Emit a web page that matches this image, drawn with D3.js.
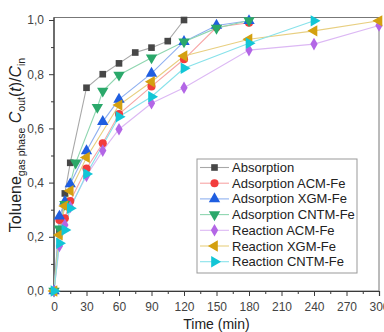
<!DOCTYPE html>
<html>
<head>
<meta charset="utf-8">
<script src="https://cdn.jsdelivr.net/npm/d3@7"></script>
<style>
  html, body { margin: 0; padding: 0; background: #fff; }
  svg { display: block; font-family: "Liberation Sans", Arial, sans-serif; }
</style>
</head>
<body>
<svg id="chart" width="384" height="332"></svg>
<script>
// data (time in min, C/Cin)
const seriesNames = ["Absorption", "Adsorption ACM-Fe", "Adsorption XGM-Fe", "Adsorption CNTM-Fe",
  "Reaction ACM-Fe", "Reaction XGM-Fe", "Reaction CNTM-Fe"];
const absorption = [[0,0],[5,0.22],[10,0.36],[15,0.473],[30,0.75],[45,0.8],[60,0.84],[75,0.88],[90,0.898],[105,0.922],[120,1.0]];
const adsACM = [[0,0],[5,0.262],[10,0.268],[15,0.332],[30,0.452],[45,0.545],[60,0.653],[90,0.755],[120,0.855],[150,0.973],[180,0.99]];
const adsXGM = [[0,0],[5,0.276],[10,0.33],[15,0.395],[30,0.517],[45,0.625],[60,0.707],[90,0.803],[120,0.92],[150,0.98],[180,0.997]];
const adsCNTM = [[0,0],[5,0.23],[10,0.32],[20,0.473],[40,0.678],[45,0.738],[60,0.797],[90,0.861],[120,0.92],[150,0.97],[180,0.998]];
const reaACM = [[0,0],[5,0.166],[10,0.244],[15,0.31],[30,0.425],[45,0.518],[60,0.597],[90,0.693],[120,0.75],[180,0.889],[240,0.911],[300,0.98]];
const reaXGM = [[0,0],[5,0.207],[10,0.314],[15,0.37],[30,0.493],[60,0.686],[90,0.772],[120,0.867],[180,0.929],[240,0.96],[300,0.997]];
const reaCNTM = [[0,0],[5,0.176],[10,0.225],[15,0.305],[30,0.432],[60,0.643],[90,0.717],[120,0.822],[180,0.914],[240,0.997]];
const seriesValues = [absorption, adsACM, adsXGM, adsCNTM, reaACM, reaXGM, reaCNTM];
const xTicks = [0, 30, 60, 90, 120, 150, 180, 210, 240, 270, 300];
const yTicks = [0, 0.2, 0.4, 0.6, 0.8, 1.0];

const colors = ["#474747", "#f23c3c", "#1f5ee0", "#2aa86a", "#b366e6", "#d4a010", "#12c6d6"];
const lineColors = ["#a8a8a8", "#f7a5a5", "#8fb0f0", "#8fd6b0", "#dcb8f4", "#e8cf80", "#88e2ea"];
// symbol type + rotation per series
const shapes = [
  { t: d3.symbolSquare, r: 0, s: 44 },
  { t: d3.symbolCircle, r: 0, s: 52 },
  { t: d3.symbolTriangle, r: 0, s: 56 },
  { t: d3.symbolTriangle, r: 180, s: 56 },
  { t: d3.symbolDiamond, r: 0, s: 46 },
  { t: d3.symbolTriangle, r: -90, s: 56 },
  { t: d3.symbolTriangle, r: 90, s: 56 }
];

const svg = d3.select("#chart");
const mLeft = 54, mRight = 379, mTop = 17.5, mBottom = 291;
const x = d3.scaleLinear().domain([0, 300]).range([mLeft, mRight]);
const y = d3.scaleLinear().domain([0, 1]).range([mBottom, 20]);
const axisColor = "#3a3a3a";
const labelColor = "#444";

// frame
svg.append("rect")
  .attr("x", mLeft).attr("y", mTop)
  .attr("width", mRight - mLeft).attr("height", mBottom - mTop)
  .attr("fill", "none").attr("stroke", "#777").attr("stroke-width", 1);

// x axis
const xAxis = svg.append("g").attr("transform", `translate(0,${mBottom})`);
xAxis.call(d3.axisBottom(x).tickValues(d3.range(15, 300, 30)).tickSize(3).tickFormat(""))
  .call(g => g.select(".domain").remove());
const xMain = xAxis.append("g")
  .call(d3.axisBottom(x).tickValues(xTicks).tickSize(5).tickPadding(6).tickFormat(d3.format("d")));
xAxis.selectAll("line").attr("stroke", axisColor);
xMain.select(".domain").attr("stroke", axisColor).attr("stroke-width", 1.2);
xAxis.selectAll("text").attr("fill", labelColor).attr("font-size", 12)
  .attr("font-family", "Liberation Sans, Arial, sans-serif");

// y axis
const yAxis = svg.append("g").attr("transform", `translate(${mLeft},0)`);
yAxis.call(d3.axisLeft(y).tickValues(d3.range(0.1, 1, 0.2)).tickSize(3).tickFormat(""))
  .call(g => g.select(".domain").remove());
const yMain = yAxis.append("g")
  .call(d3.axisLeft(y).tickValues(yTicks).tickSize(5).tickPadding(5)
    .tickFormat(d => d3.format(".1f")(d).replace(".", ",")));
yMain.select(".domain").attr("d", `M0,${mBottom}V${mTop}`).attr("stroke", axisColor).attr("stroke-width", 1.2);
yAxis.selectAll("line").attr("stroke", axisColor);
yAxis.selectAll("text").attr("fill", labelColor).attr("font-size", 12)
  .attr("font-family", "Liberation Sans, Arial, sans-serif");

// axis titles
svg.append("text")
  .attr("x", (mLeft + mRight) / 2).attr("y", 329)
  .attr("text-anchor", "middle").attr("font-size", 14).attr("fill", "#222")
  .text("Time (min)");

const yl = svg.append("text")
  .attr("transform", "translate(21,145) rotate(-90)")
  .attr("text-anchor", "middle").attr("font-size", 16).attr("fill", "#222");
yl.append("tspan").text("Toluene");
yl.append("tspan").attr("font-size", 10.5).attr("dy", 4).text("gas phase");
yl.append("tspan").attr("dy", -4).text(" ");
yl.append("tspan").attr("font-style", "italic").text("C");
yl.append("tspan").attr("font-size", 10.5).attr("dy", 4).text("out");
yl.append("tspan").attr("dy", -4).text("(");
yl.append("tspan").attr("font-style", "italic").text("t");
yl.append("tspan").text(")/");
yl.append("tspan").attr("font-style", "italic").text("C");
yl.append("tspan").attr("font-size", 10.5).attr("dy", 4).text("in");

// series
const line = d3.line().x(d => x(d[0])).y(d => y(d[1]));
const plot = svg.append("g");
seriesValues.forEach((vals, i) => {
  plot.append("path")
    .attr("d", line(vals))
    .attr("fill", "none")
    .attr("stroke", lineColors[i])
    .attr("stroke-width", 1.1);
});
seriesValues.forEach((vals, i) => {
  const sh = shapes[i];
  plot.append("g").selectAll("path")
    .data(vals)
    .join("path")
    .attr("d", d3.symbol().type(sh.t).size(sh.s))
    .attr("transform", d => `translate(${x(d[0])},${y(d[1])}) rotate(${sh.r})`)
    .attr("fill", colors[i]);
});

// legend
const lg = svg.append("g").attr("transform", "translate(197,159)");
lg.append("rect").attr("width", 160).attr("height", 114)
  .attr("fill", "#fff").attr("stroke", "#999").attr("stroke-width", 1);
seriesNames.forEach((name, i) => {
  const cy = 8.5 + i * 15.7;
  lg.append("line").attr("x1", 3).attr("x2", 32).attr("y1", cy).attr("y2", cy)
    .attr("stroke", lineColors[i]).attr("stroke-width", 1.1);
  lg.append("path")
    .attr("d", d3.symbol().type(shapes[i].t).size(shapes[i].s)())
    .attr("transform", `translate(17.5,${cy}) rotate(${shapes[i].r})`)
    .attr("fill", colors[i]);
  lg.append("text").attr("x", 35).attr("y", cy + 4.5)
    .attr("font-size", 13).attr("fill", "#222").text(name);
});
</script>
</body>
</html>
